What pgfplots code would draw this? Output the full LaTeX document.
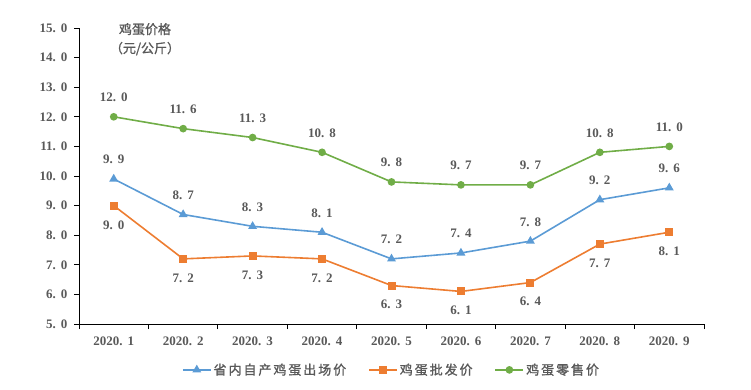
\documentclass[border=0pt]{standalone}
\usepackage{fontspec}
\setmainfont{Liberation Serif}
\newfontfamily\cjk{Noto Sans CJK SC}[FakeBold=1.2]
\newfontfamily\cjkl{Noto Sans CJK SC}[LetterSpace=15,FakeBold=1.2]
\usepackage{pgfplots}
\pgfplotsset{compat=1.18}
\definecolor{cblue}{HTML}{5B9BD5}
\definecolor{corange}{HTML}{ED7D31}
\definecolor{cgreen}{HTML}{70AD47}
\definecolor{tgray}{HTML}{595959}
\begin{document}
\begin{tikzpicture}
\path[use as bounding box] (0,0) rectangle (751pt,389pt);
\begin{axis}[
  at={(79pt,65pt)}, anchor=south west,
  scale only axis, width=625pt, height=296pt,
  xmin=-0.5, xmax=8.5, ymin=5, ymax=15,
  clip=false,
  axis x line*=bottom, axis y line*=left,
  axis line style={black, line width=0.9pt},
  ytick={5,6,...,15},
  xtick={0,1,...,8},
  xticklabels={2020.\hspace{5pt}1,2020.\hspace{5pt}2,2020.\hspace{5pt}3,2020.\hspace{5pt}4,2020.\hspace{5pt}5,2020.\hspace{5pt}6,2020.\hspace{5pt}7,2020.\hspace{5pt}8,2020.\hspace{5pt}9},
  minor xtick={-0.5,0.5,1.5,2.5,3.5,4.5,5.5,6.5,7.5,8.5},
  tick align=outside, major tick length=5pt, minor tick length=5pt,
  major x tick style={draw=none},
  tick style={black, line width=0.9pt},
  /pgf/number format/.cd, fixed, fixed zerofill, precision=1, dec sep={.\hspace{5pt}}, assume math mode=true,
  /pgfplots/.cd,
  ticklabel style={font=\bfseries\fontsize{13}{13}\selectfont, text=tgray},
  yticklabel style={xshift=-3pt},
  xticklabel style={yshift=-4pt},
  every node near coord/.append style={font=\bfseries\fontsize{13}{13}\selectfont, text=tgray, inner sep=0pt},
  legend style={at={(0.5,-0.155)}, anchor=center, draw=none, legend columns=3,
    font=\cjkl\fontsize{13}{13}\selectfont, text=tgray,
    /tikz/every even column/.append style={column sep=20pt}},
  legend image code/.code={\draw[mark repeat=2,mark phase=2] plot coordinates {(0pt,0pt) (14pt,0pt) (28pt,0pt)};},
]
\addplot[cblue, line width=1.6pt, mark=triangle*, mark size=3.6pt, mark options={solid},
  nodes near coords, every node near coord/.append style={anchor=south, yshift=14pt}]
  coordinates {(0,9.9) (1,8.7) (2,8.3) (3,8.1) (4,7.2) (5,7.4) (6,7.8) (7,9.2) (8,9.6)};
\addlegendentry{省内自产鸡蛋出场价}
\addplot[corange, line width=1.6pt, mark=square*, mark size=3.2pt, mark options={solid},
  nodes near coords, every node near coord/.append style={anchor=north, yshift=-14pt}]
  coordinates {(0,9.0) (1,7.2) (2,7.3) (3,7.2) (4,6.3) (5,6.1) (6,6.4) (7,7.7) (8,8.1)};
\addlegendentry{鸡蛋批发价}
\addplot[cgreen, line width=1.6pt, mark=*, mark size=3pt, mark options={solid},
  nodes near coords, every node near coord/.append style={anchor=south, yshift=14pt}]
  coordinates {(0,12.0) (1,11.6) (2,11.3) (3,10.8) (4,9.8) (5,9.7) (6,9.7) (7,10.8) (8,11.0)};
\addlegendentry{鸡蛋零售价}
\node[align=center, font=\cjk\fontsize{13}{19}\selectfont, text=tgray] at (axis cs:0.45,14.62) {鸡蛋价格\\（元/公斤）};
\end{axis}
\end{tikzpicture}
\end{document}
